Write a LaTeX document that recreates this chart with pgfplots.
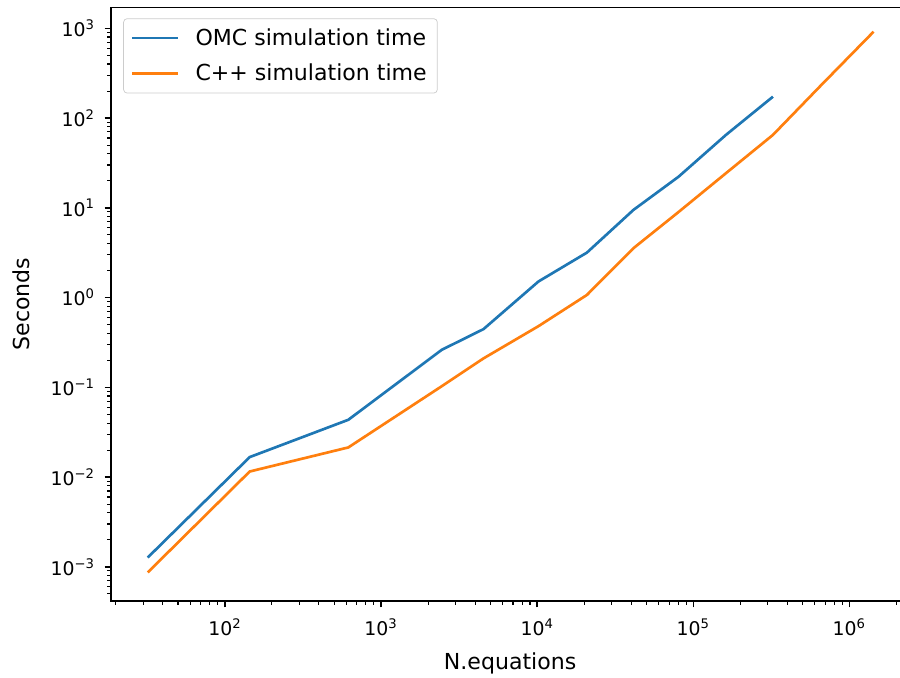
\documentclass[border=0pt]{standalone}
\usepackage{pgfplots}
\pgfplotsset{compat=1.18}
\usepackage{fontspec}
\setmainfont{DejaVu Sans}
\usetikzlibrary{calc}
\definecolor{mplblue}{HTML}{1F77B4}
\definecolor{mplorange}{HTML}{FF7F0E}

\begin{document}
\begin{tikzpicture}
\begin{axis}[name=ax, at={(0,0)}, anchor=south west,
  scale only axis, width=449pt, height=334pt,
  xmode=log, ymode=log,
  xmin=18.6, xmax=2.42e6, ymin=4.15e-4, ymax=1714,
  font=\fontsize{12.4}{14.9}\selectfont,
  tick label style={font=\fontsize{10.6}{12.7}\selectfont},
  xticklabel style={yshift=-3pt},
  yticklabel style={xshift=-2pt},
  axis line style={line width=0.8pt, black},
  tick align=outside,
  xtick pos=bottom, ytick pos=left,
  major tick length=3.5pt, minor tick length=2pt,
  every major tick/.style={line width=0.8pt, black},
  every minor tick/.style={line width=0.6pt, black},
  xtick={1e2,1e3,1e4,1e5,1e6},
  xticklabels={10\textsuperscript{2},10\textsuperscript{3},10\textsuperscript{4},10\textsuperscript{5},10\textsuperscript{6}},
  minor xtick={20,30,40,50,60,70,80,90,200,300,400,500,600,700,800,900,2000,3000,4000,5000,6000,7000,8000,9000,20000,30000,40000,50000,60000,70000,80000,90000,200000,300000,400000,500000,600000,700000,800000,900000,2000000},
  ytick={1e-3,1e-2,1e-1,1,10,100,1000},
  yticklabels={10\textsuperscript{−3},10\textsuperscript{−2},10\textsuperscript{−1},10\textsuperscript{0},10\textsuperscript{1},10\textsuperscript{2},10\textsuperscript{3}},
  minor ytick={5e-4,6e-4,7e-4,8e-4,9e-4,2e-3,3e-3,4e-3,5e-3,6e-3,7e-3,8e-3,9e-3,2e-2,3e-2,4e-2,5e-2,6e-2,7e-2,8e-2,9e-2,0.2,0.3,0.4,0.5,0.6,0.7,0.8,0.9,2,3,4,5,6,7,8,9,20,30,40,50,60,70,80,90,200,300,400,500,600,700,800,900},
  xlabel={N.equations},
  ylabel={Seconds},
  xlabel style={at={(axis description cs:0.5,-0.1045)}, anchor=center},
  ylabel style={at={(axis description cs:-0.1127,0.5)}, anchor=center},
  legend style={at={(axis description cs:0,1)}, anchor=north west, xshift=6.9pt, yshift=-6.2pt,
    draw=black!20, rounded corners=2pt, font=\fontsize{12.4}{14.9}\selectfont,
    inner xsep=4pt, inner ysep=3.5pt, row sep=5pt},
  legend cell align=left,
  legend image code/.code={\draw[#1] (0pt,0pt) -- (26pt,0pt); \path (33pt,0pt);},
]
\addplot[mplblue, line width=1.5pt] coordinates {
  (32,1.27e-3) (144,0.0167) (617,0.0435) (2450,0.262) (4530,0.445)
  (10190,1.51) (20840,3.17) (41400,9.48) (80500,22.2) (162000,64.9) (324000,173)
};
\addlegendentry{OMC simulation time}
\addplot[mplorange, line width=1.5pt] coordinates {
  (32,8.67e-4) (144,0.01154) (617,0.0214) (2450,0.103) (4530,0.21)
  (10190,0.48) (20840,1.07) (41400,3.55) (80500,8.98) (162000,24.3) (324000,64.9)
  (648000,225) (1430000,916)
};
\addlegendentry{C++ simulation time}
\end{axis}
\pgfresetboundingbox
\path[use as bounding box] ($(ax.south west)+(-62.4pt,-42.75pt)$) rectangle ($(ax.south west)+(443.8pt,338.1pt)$);
\end{tikzpicture}
\end{document}
